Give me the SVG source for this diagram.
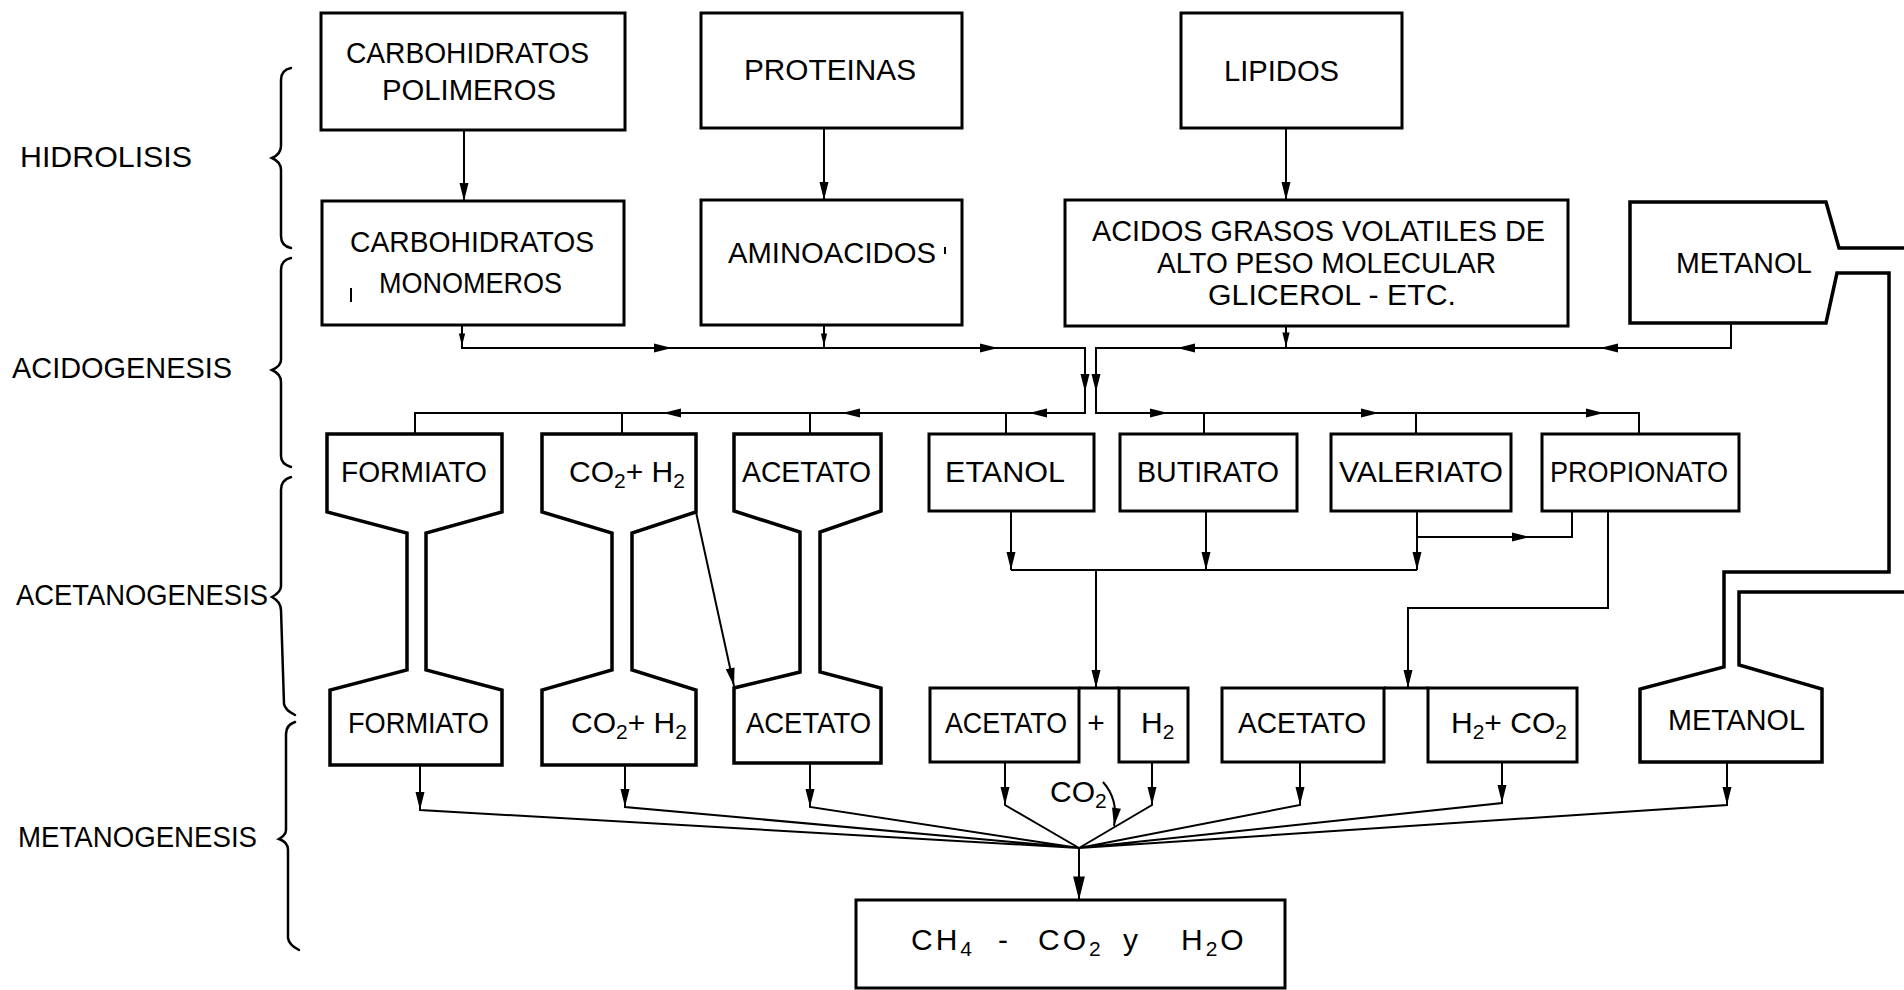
<svg xmlns="http://www.w3.org/2000/svg" xmlns:xlink="http://www.w3.org/1999/xlink" width="1904" height="990" viewBox="0 0 1904 990">
  <style>
    .t { font-family: "Liberation Sans", Arial, sans-serif; font-size: 30px; fill: #000; }
    .s { font-size: 21px; }
    .box { fill: none; stroke: #000; stroke-width: 3; }
    .hg { fill: none; stroke: #000; stroke-width: 3.5; stroke-linejoin: miter; }
    .ln { fill: none; stroke: #000; stroke-width: 2; }
    .br { fill: none; stroke: #000; stroke-width: 2.5; stroke-linecap: round; }
  </style>
  <defs>
    <!-- arrowhead, tip at the origin, pointing along +x -->
    <path id="ah" d="M0,0 L-18,-4.5 L-18,4.5 Z" fill="#000"/>
  </defs>
  <rect width="1904" height="990" fill="#fff"/>

  <!-- stage labels with braces -->
  <g id="stages">
    <text class="t" x="20" y="167" textLength="172" lengthAdjust="spacingAndGlyphs">HIDROLISIS</text>
    <text class="t" x="12" y="378" textLength="220" lengthAdjust="spacingAndGlyphs">ACIDOGENESIS</text>
    <text class="t" x="16" y="605" textLength="252" lengthAdjust="spacingAndGlyphs">ACETANOGENESIS</text>
    <text class="t" x="18" y="847" textLength="239" lengthAdjust="spacingAndGlyphs">METANOGENESIS</text>
    <path class="br" d="M291,68 Q281,70 281,80 L281,146 Q281,154 272,158 Q281,162 281,170 L281,236 Q281,246 291,248"/>
    <path class="br" d="M291,258 Q281,260 281,270 L281,360 Q281,366 272,370 Q281,374 281,382 L281,456 Q281,464 291,467"/>
    <path class="br" d="M291,477 Q281,480 281,490 L281,586 Q281,592 272,597 Q281,602 281,610 L284,704 Q285,710 295,715"/>
    <path class="br" d="M295,722 Q286,725 286,734 L286,830 Q286,835 279,839 Q288,842 288,850 L288,938 Q289,945 299,950"/>
  </g>

  <!-- hydrolysis substrates -->
  <g id="carbohidratos-polimeros">
    <rect class="box" x="321" y="13" width="304" height="117"/>
    <text class="t" x="346" y="63" textLength="243" lengthAdjust="spacingAndGlyphs">CARBOHIDRATOS</text>
    <text class="t" x="382" y="100" textLength="174" lengthAdjust="spacingAndGlyphs">POLIMEROS</text>
  </g>
  <g id="proteinas">
    <rect class="box" x="701" y="13" width="261" height="115"/>
    <text class="t" x="744" y="80" textLength="172" lengthAdjust="spacingAndGlyphs">PROTEINAS</text>
  </g>
  <g id="lipidos">
    <rect class="box" x="1181" y="13" width="221" height="115"/>
    <text class="t" x="1224" y="81" textLength="115" lengthAdjust="spacingAndGlyphs">LIPIDOS</text>
  </g>

  <!-- hydrolysis products -->
  <g id="carbohidratos-monomeros">
    <rect class="box" x="322" y="201" width="302" height="124"/>
    <text class="t" x="350" y="252" textLength="244" lengthAdjust="spacingAndGlyphs">CARBOHIDRATOS</text>
    <text class="t" x="379" y="293" textLength="183" lengthAdjust="spacingAndGlyphs">MONOMEROS</text>
    <path class="ln" d="M351,288 V302"/>
  </g>
  <g id="aminoacidos">
    <rect class="box" x="701" y="200" width="261" height="125"/>
    <text class="t" x="728" y="263" textLength="208" lengthAdjust="spacingAndGlyphs">AMINOACIDOS</text>
    <path class="ln" d="M945,247 V254"/>
  </g>
  <g id="acidos-grasos">
    <rect class="box" x="1065" y="200" width="503" height="126"/>
    <text class="t" x="1092" y="241" textLength="453" lengthAdjust="spacingAndGlyphs">ACIDOS GRASOS VOLATILES DE</text>
    <text class="t" x="1157" y="273" textLength="339" lengthAdjust="spacingAndGlyphs">ALTO PESO MOLECULAR</text>
    <text class="t" x="1208" y="305" textLength="248" lengthAdjust="spacingAndGlyphs">GLICEROL - ETC.</text>
  </g>
  <g id="metanol-1">
    <path class="hg" d="M1904,248 H1839 L1826,202 H1630 V323 H1826 L1837,273 H1889 V440"/>
    <text class="t" x="1676" y="273" textLength="136" lengthAdjust="spacingAndGlyphs">METANOL</text>
  </g>

  <!-- acidogenesis products -->
  <g id="formiato-1">
    <path class="hg" d="M407,600 V533 L327,512 V434 H502 V512 L426,533 V600"/>
    <text class="t" x="341" y="482" textLength="146" lengthAdjust="spacingAndGlyphs">FORMIATO</text>
  </g>
  <g id="co2-h2-1">
    <path class="hg" d="M612,600 V533 L542,512 V434 H696 V512 L632,533 V600"/>
    <text class="t" x="569" y="482">CO<tspan class="s" dy="6">2</tspan><tspan dy="-6">+ H</tspan><tspan class="s" dy="6">2</tspan></text>
  </g>
  <g id="acetato-1">
    <path class="hg" d="M800,600 V532 L734,511 V434 H881 V511 L820,532 V600"/>
    <text class="t" x="742" y="482" textLength="129" lengthAdjust="spacingAndGlyphs">ACETATO</text>
  </g>
  <g id="etanol">
    <rect class="box" x="929" y="434" width="165" height="77"/>
    <text class="t" x="945" y="482" textLength="120" lengthAdjust="spacingAndGlyphs">ETANOL</text>
  </g>
  <g id="butirato">
    <rect class="box" x="1120" y="434" width="177" height="77"/>
    <text class="t" x="1137" y="482" textLength="142" lengthAdjust="spacingAndGlyphs">BUTIRATO</text>
  </g>
  <g id="valeriato">
    <rect class="box" x="1331" y="434" width="180" height="77"/>
    <text class="t" x="1339" y="482" textLength="164" lengthAdjust="spacingAndGlyphs">VALERIATO</text>
  </g>
  <g id="propionato">
    <rect class="box" x="1542" y="434" width="197" height="77"/>
    <text class="t" x="1550" y="482" textLength="178" lengthAdjust="spacingAndGlyphs">PROPIONATO</text>
  </g>

  <!-- acetanogenesis products -->
  <g id="formiato-2">
    <path class="hg" d="M407,600 V670 L330,690 V765 H502 V690 L426,670 V600"/>
    <text class="t" x="348" y="733" textLength="141" lengthAdjust="spacingAndGlyphs">FORMIATO</text>
  </g>
  <g id="co2-h2-2">
    <path class="hg" d="M612,600 V670 L542,690 V765 H696 V690 L632,670 V600"/>
    <text class="t" x="571" y="733">CO<tspan class="s" dy="6">2</tspan><tspan dy="-6">+ H</tspan><tspan class="s" dy="6">2</tspan></text>
  </g>
  <g id="acetato-2">
    <path class="hg" d="M800,600 V672 L734,688 V763 H881 V688 L820,672 V600"/>
    <text class="t" x="746" y="733" textLength="125" lengthAdjust="spacingAndGlyphs">ACETATO</text>
  </g>
  <g id="acetato-3">
    <rect class="box" x="930" y="688" width="149" height="74"/>
    <text class="t" x="945" y="733" textLength="122" lengthAdjust="spacingAndGlyphs">ACETATO</text>
  </g>
  <g id="h2-3">
    <rect class="box" x="1119" y="688" width="69" height="74"/>
    <text class="t" x="1141" y="733">H<tspan class="s" dy="6">2</tspan></text>
  </g>
  <g id="acetato-4">
    <rect class="box" x="1222" y="688" width="162" height="74"/>
    <text class="t" x="1238" y="733" textLength="128" lengthAdjust="spacingAndGlyphs">ACETATO</text>
  </g>
  <g id="h2-co2-4">
    <rect class="box" x="1428" y="688" width="149" height="74"/>
    <text class="t" x="1451" y="733">H<tspan class="s" dy="6">2</tspan><tspan dy="-6">+ CO</tspan><tspan class="s" dy="6">2</tspan></text>
  </g>
  <g id="metanol-2">
    <path class="hg" d="M1889,440 V572 H1724 V667 L1640,689 V762 H1822 V689 L1739,665 V592 H1904"/>
    <text class="t" x="1668" y="730" textLength="137" lengthAdjust="spacingAndGlyphs">METANOL</text>
  </g>

  <!-- final products -->
  <g id="productos">
    <rect class="box" x="856" y="900" width="429" height="88"/>
    <text class="t" y="950" letter-spacing="3"><tspan x="911">CH</tspan><tspan class="s" dy="6">4</tspan><tspan x="998" dy="-6">-</tspan><tspan x="1038">CO</tspan><tspan class="s" dy="6">2</tspan><tspan x="1123" dy="-6">y</tspan><tspan x="1181">H</tspan><tspan class="s" dy="6">2</tspan><tspan dy="-6">O</tspan></text>
  </g>

  <g id="connectors">
    <!-- hydrolysis -->
    <path class="ln" d="M464,130 V201 M824,128 V200 M1286,128 V200"/>
    <use xlink:href="#ah" transform="translate(464,201) rotate(90)"/>
    <use xlink:href="#ah" transform="translate(824,200) rotate(90)"/>
    <use xlink:href="#ah" transform="translate(1286,200) rotate(90)"/>

    <!-- acidogenesis, left collector -->
    <path class="ln" d="M462,325 V348 H1085 V413 H415 V434 M824,325 V348 M622,413 V434 M810,413 V434 M1006,413 V434"/>
    <use xlink:href="#ah" transform="translate(462,346) rotate(90) scale(0.7)"/>
    <use xlink:href="#ah" transform="translate(824,346) rotate(90) scale(0.7)"/>
    <use xlink:href="#ah" transform="translate(672,348)"/>
    <use xlink:href="#ah" transform="translate(998,348)"/>
    <use xlink:href="#ah" transform="translate(1085,392) rotate(90)"/>
    <use xlink:href="#ah" transform="translate(1029,413) rotate(180)"/>
    <use xlink:href="#ah" transform="translate(842,413) rotate(180)"/>
    <use xlink:href="#ah" transform="translate(663,413) rotate(180)"/>

    <!-- acidogenesis, right collector -->
    <path class="ln" d="M1731,323 V348 H1096 V413 H1639 V434 M1286,326 V348 M1204,413 V434 M1416,413 V434"/>
    <use xlink:href="#ah" transform="translate(1286,347) rotate(90) scale(0.8)"/>
    <use xlink:href="#ah" transform="translate(1600,348) rotate(180)"/>
    <use xlink:href="#ah" transform="translate(1177,348) rotate(180)"/>
    <use xlink:href="#ah" transform="translate(1096,392) rotate(90)"/>
    <use xlink:href="#ah" transform="translate(1168,413)"/>
    <use xlink:href="#ah" transform="translate(1379,413)"/>
    <use xlink:href="#ah" transform="translate(1604,413)"/>

    <!-- acetanogenesis -->
    <path class="ln" d="M1011,511 V570 M1206,511 V570 M1417,511 V570 M1011,570 H1417 M1096,570 V688"/>
    <use xlink:href="#ah" transform="translate(1011,570) rotate(90)"/>
    <use xlink:href="#ah" transform="translate(1206,570) rotate(90)"/>
    <use xlink:href="#ah" transform="translate(1417,570) rotate(90)"/>
    <use xlink:href="#ah" transform="translate(1096,688) rotate(90)"/>
    <path class="ln" d="M1417,537 H1572 V511"/>
    <use xlink:href="#ah" transform="translate(1530,537)"/>
    <path class="ln" d="M1608,511 V608 H1408 V688"/>
    <use xlink:href="#ah" transform="translate(1408,688) rotate(90)"/>
    <path class="ln" d="M696,512 L734,686"/>
    <use xlink:href="#ah" transform="translate(734,686) rotate(77.7)"/>
    <path class="box" d="M1079,688 H1119 M1384,688 H1428"/>
    <text class="t" x="1096" y="733" text-anchor="middle">+</text>

    <!-- methanogenesis fan -->
    <path class="ln" d="M420,765 V810 L1079,848 M625,765 V807 L1079,848 M810,763 V807 L1079,848 M1005,762 V805 L1079,848 M1152,762 V805 L1079,848 M1300,762 V805 L1079,848 M1502,762 V803 L1079,848 M1727,762 V805 L1079,848"/>
    <use xlink:href="#ah" transform="translate(420,810) rotate(90)"/>
    <use xlink:href="#ah" transform="translate(625,807) rotate(90)"/>
    <use xlink:href="#ah" transform="translate(810,807) rotate(90)"/>
    <use xlink:href="#ah" transform="translate(1005,805) rotate(90)"/>
    <use xlink:href="#ah" transform="translate(1152,805) rotate(90)"/>
    <use xlink:href="#ah" transform="translate(1300,805) rotate(90)"/>
    <use xlink:href="#ah" transform="translate(1502,803) rotate(90)"/>
    <use xlink:href="#ah" transform="translate(1727,805) rotate(90)"/>
    <path class="ln" d="M1079,848 V900"/>
    <use xlink:href="#ah" transform="translate(1079,900) rotate(90) scale(1.3)"/>
    <path class="ln" d="M1103,782 Q1119,800 1114,826"/>
    <use xlink:href="#ah" transform="translate(1114,826) rotate(98)"/>
    <text class="t" x="1050" y="802">CO<tspan class="s" dy="6">2</tspan></text>
  </g>
</svg>
